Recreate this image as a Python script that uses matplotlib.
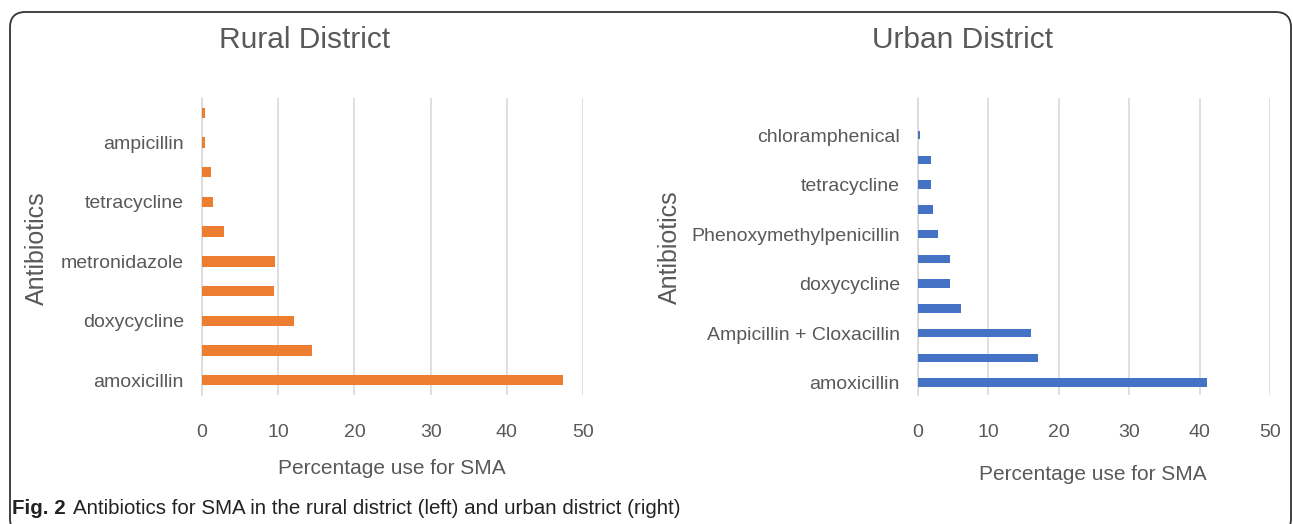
import matplotlib
matplotlib.use("Agg")
import matplotlib.pyplot as plt
from matplotlib.patches import FancyBboxPatch

# ---- data (bottom to top) ----
rural_categories = ["amoxicillin", "", "doxycycline", "", "metronidazole", "",
                    "tetracycline", "", "ampicillin", ""]
rural_values = [47.4, 14.4, 12.1, 9.5, 9.6, 2.85, 1.4, 1.2, 0.35, 0.35]

urban_categories = ["amoxicillin", "", "Ampicillin + Cloxacillin", "", "doxycycline", "",
                    "Phenoxymethylpenicillin", "", "tetracycline", "", "chloramphenical", ""]
urban_values = [41.1, 17.1, 16.1, 6.1, 4.6, 4.6, 2.9, 2.1, 1.9, 1.9, 0.3, 0.0]

x_ticks = [0, 10, 20, 30, 40, 50]

W, H = 1293, 524
fig = plt.figure(figsize=(W / 100, H / 100), dpi=100)
fig.patch.set_facecolor("white")

FONT = ["Liberation Sans", "DejaVu Sans"]
GRAY = "#595959"
GRID = "#D9D9D9"


def px_axes(x0, y0, x1, y1):
    return fig.add_axes([x0 / W, 1 - y1 / H, (x1 - x0) / W, (y1 - y0) / H])


def draw(ax, cats, vals, color):
    pos = list(range(len(cats)))
    ax.barh(pos, vals, height=0.35, color=color, zorder=3)
    ax.set_ylim(-0.5, len(cats) - 0.5)
    ax.set_xlim(0, 50)
    ax.set_xticks(x_ticks)
    ax.set_xticklabels([str(t) for t in x_ticks], fontsize=14, color=GRAY, family=FONT)
    ax.set_yticks(pos)
    ax.set_yticklabels(cats, fontsize=14, color=GRAY, family=FONT)
    ax.tick_params(axis="y", length=0, pad=13)
    ax.tick_params(axis="x", length=0, pad=21)
    ax.grid(axis="x", color=GRID, linewidth=1.2, zorder=0)
    for s in ["top", "right", "bottom"]:
        ax.spines[s].set_visible(False)
    ax.spines["left"].set_color(GRID)
    ax.spines["left"].set_linewidth(1.2)
    ax.set_facecolor("none")


axL = px_axes(202, 98, 583, 395)
draw(axL, rural_categories, rural_values, "#ED7D31")
axR = px_axes(918, 98, 1270, 395)
draw(axR, urban_categories, urban_values, "#4472C4")

# titles
fig.text(305 / W, 1 - 40 / H, "Rural District", ha="center", va="center",
         fontsize=21.5, color=GRAY, family=FONT)
fig.text(963 / W, 1 - 40 / H, "Urban District", ha="center", va="center",
         fontsize=21.5, color=GRAY, family=FONT)

# axis labels
fig.text(37 / W, 1 - 248 / H, "Antibiotics", rotation=90, ha="center", va="center",
         fontsize=18, color=GRAY, family=FONT)
fig.text(670 / W, 1 - 247 / H, "Antibiotics", rotation=90, ha="center", va="center",
         fontsize=18, color=GRAY, family=FONT)
fig.text(392 / W, 1 - 468 / H, "Percentage use for SMA", ha="center", va="center",
         fontsize=15, color=GRAY, family=FONT)
fig.text(1093 / W, 1 - 474 / H, "Percentage use for SMA", ha="center", va="center",
         fontsize=15, color=GRAY, family=FONT)

# caption
fig.text(12 / W, 1 - 508 / H, "Fig. 2", ha="left", va="center",
         fontsize=14.8, fontweight="bold", color="#222222", family=FONT)
fig.text(73 / W, 1 - 508 / H,
         "Antibiotics for SMA in the rural district (left) and urban district (right)",
         ha="left", va="center", fontsize=14.8, color="#222222", family=FONT)

# frame
box = FancyBboxPatch((10 / W, -10 / H), 1281 / W, (518 + 10 - 6) / H,
                     boxstyle="round,pad=0,rounding_size=0.012",
                     transform=fig.transFigure, fill=False, edgecolor="#333333",
                     linewidth=1.3, mutation_aspect=W / H, clip_on=False)
fig.patches.append(box)

fig.savefig("out.png", dpi=100)
